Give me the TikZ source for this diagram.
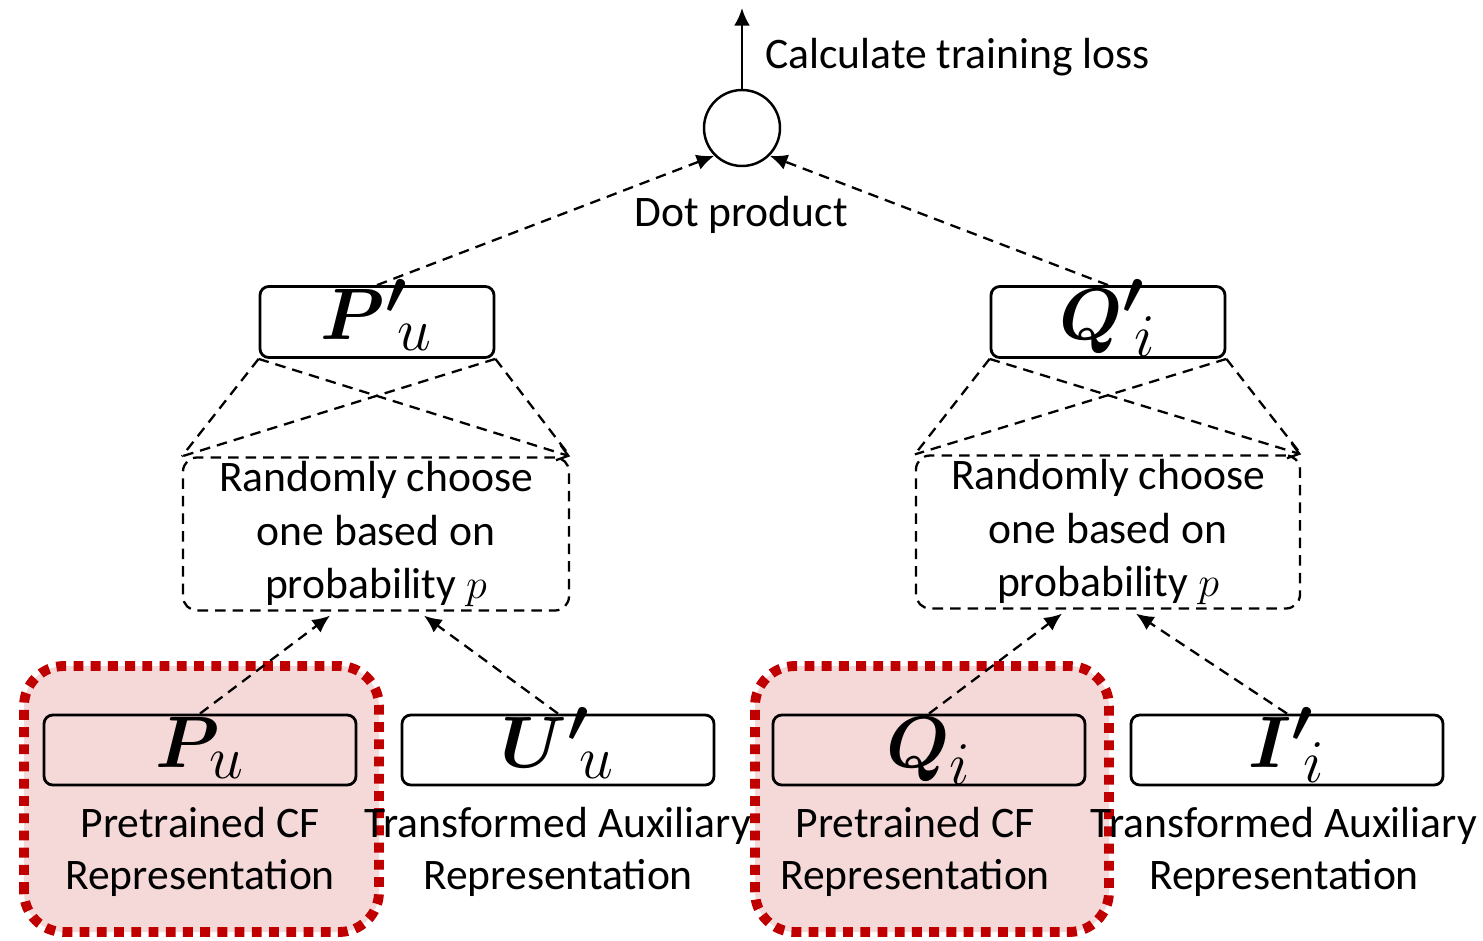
\documentclass[tikz,border=0pt]{standalone}
\usepackage{amsmath, amssymb}
\usepackage{fontspec}
\setmainfont{Carlito}
\DeclareMathSizes{20}{20}{17}{14}
\definecolor{cfred}{RGB}{192, 0, 0}
\definecolor{cfpink}{RGB}{245, 217, 217}
\usetikzlibrary{arrows.meta}

\begin{document}
\begin{tikzpicture}[
  font=\fontsize{12.4}{14.8}\selectfont,
  vecbox/.style={draw, line width=0.8pt, rounded corners=2.5pt, minimum width=3.12cm,
    minimum height=0.70cm, inner sep=0pt, text height=14pt, text depth=4pt,
    font=\fontsize{20}{24}\selectfont},
  choosebox/.style={draw, dash pattern=on 3pt off 2pt, line width=0.65pt, rounded corners=4pt,
    minimum width=3.86cm, minimum height=1.53cm, inner sep=0pt, align=center,
    font=\fontsize{12.4}{15.1}\selectfont},
  dashline/.style={dash pattern=on 3pt off 2pt, line width=0.65pt},
  tip/.style={-{Latex[length=5pt, width=4.5pt]}},
  cfregion/.style={fill=cfpink, draw=cfred, line width=2.8pt, dash pattern=on 2.8pt off 2.1pt,
    rounded corners=0.4cm},
]
  \useasboundingbox (0,0) rectangle (14.83,9.40);

  % Highlighted pretrained CF regions
  \draw[cfregion] (0.24,0.08) rectangle (3.79,2.74);
  \draw[cfregion] (7.55,0.08) rectangle (11.09,2.74);

  % Dot product and loss
  \node[draw, circle, line width=0.7pt, minimum size=0.76cm, inner sep=0pt] (dot) at (7.42,8.12) {};
  \coordinate (loss) at (7.42,9.32);
  \draw[tip, line width=0.7pt] (dot) -- (loss);
  \node[anchor=west] (losslabel) at (7.53,8.83) {Calculate training loss};
  \node (dotlabel) at (7.41,7.25) {Dot product};

  % Final vectors
  \node[vecbox, minimum width=2.34cm, minimum height=0.71cm] (pup) at (3.77,6.18) {$\boldsymbol{P'}_{\!u}$};
  \node[vecbox, minimum width=2.34cm, minimum height=0.71cm] (qip) at (11.08,6.18) {$\boldsymbol{Q'}_{\!i}$};
  \draw[dashline, tip] (pup.north) -- (dot.south west);
  \draw[dashline, tip] (qip.north) -- (dot.south east);

  % Random choice
  \node[choosebox] (chooseu) at (3.76,4.06) {Randomly choose\\one based on\\probability $p$};
  \node[choosebox, minimum width=3.84cm] (choosei) at (11.08,4.08) {Randomly choose\\one based on\\probability $p$};

  \draw[dashline] (pup.south west) -- (chooseu.north west);
  \draw[dashline, -{Straight Barb[length=3pt, width=4.5pt]}] (pup.south west) -- (chooseu.north east);
  \draw[dashline] (pup.south east) -- (chooseu.north west);
  \draw[dashline] (pup.south east) -- (chooseu.north east);

  \draw[dashline] (qip.south west) -- (choosei.north west);
  \draw[dashline, -{Straight Barb[length=3pt, width=4.5pt]}] (qip.south west) -- (choosei.north east);
  \draw[dashline] (qip.south east) -- (choosei.north west);
  \draw[dashline] (qip.south east) -- (choosei.north east);

  % Input representations
  \node[vecbox] (pu) at (2.00,1.90) {$\boldsymbol{P}_{\!u}$};
  \node[vecbox] (uup) at (5.58,1.90) {$\boldsymbol{U'}_{\!u}$};
  \node[vecbox] (qi) at (9.29,1.90) {$\boldsymbol{Q}_{i}$};
  \node[vecbox] (iip) at (12.87,1.90) {$\boldsymbol{I'}_{\!i}$};

  \draw[dashline, tip] (pu.north) -- ([xshift=-0.46cm, yshift=-0.04cm]chooseu.south);
  \draw[dashline, tip] (uup.north) -- ([xshift=0.48cm, yshift=-0.04cm]chooseu.south);
  \draw[dashline, tip] (qi.north) -- ([xshift=-0.46cm, yshift=-0.04cm]choosei.south);
  \draw[dashline, tip] (iip.north) -- ([xshift=0.28cm, yshift=-0.04cm]choosei.south);

  % Labels below
  \node[align=center] (pulabel) at (2.00,0.88) {Pretrained CF\\Representation};
  \node[align=center] (uulabel) at (5.58,0.88) {Transformed Auxiliary\\Representation};
  \node[align=center] (qilabel) at (9.15,0.88) {Pretrained CF\\Representation};
  \node[align=center] (iilabel) at (12.84,0.88) {Transformed Auxiliary\\Representation};
\end{tikzpicture}
\end{document}
